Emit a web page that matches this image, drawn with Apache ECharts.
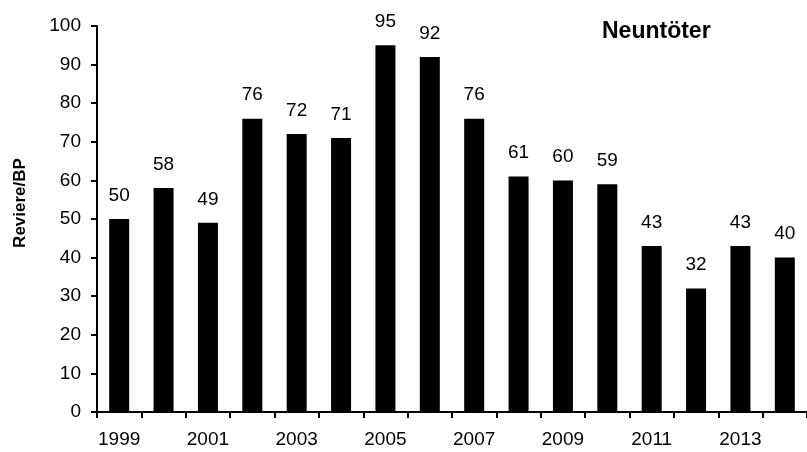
<!DOCTYPE html>
<html>
<head>
<meta charset="utf-8">
<script src="https://cdn.jsdelivr.net/npm/echarts@6/dist/echarts.min.js"></script>
<style>
  html, body { margin: 0; padding: 0; background: #fff; }
  #chart { width: 807px; height: 452px; }
</style>
</head>
<body>
<div id="chart"></div>
<script>
// Reviere je Brutjahr
var years = ["1999", "2000", "2001", "2002", "2003", "2004", "2005", "2006",
             "2007", "2008", "2009", "2010", "2011", "2012", "2013", "2014"];
var reviere = [50, 58, 49, 76, 72, 71, 95, 92, 76, 61, 60, 59, 43, 32, 43, 40];

var font = "Liberation Sans, Arial, sans-serif";

var myChart = echarts.init(document.getElementById("chart"));
var option = {
  animation: false,
  textStyle: { fontFamily: font },
  title: {
    text: "Neuntöter",
    left: 597,
    top: 15,
    textStyle: { fontSize: 23, fontWeight: "bold", color: "#000", fontFamily: font }
  },
  grid: { left: 97, right: -4, top: 26, bottom: 40, containLabel: false },
  xAxis: {
    type: "category",
    data: years,
    boundaryGap: true,
    axisLine: { lineStyle: { color: "#000", width: 2 } },
    axisTick: { show: true, interval: 0, length: 6, lineStyle: { color: "#000", width: 2 } },
    axisLabel: { interval: 1, fontSize: 19, color: "#000", margin: 18, fontFamily: font },
    splitLine: { show: false }
  },
  yAxis: {
    type: "value",
    min: 0,
    max: 100,
    interval: 10,
    name: "Reviere/BP",
    nameLocation: "middle",
    nameGap: 68,
    nameTextStyle: { fontSize: 17, fontWeight: "bold", color: "#000", fontFamily: font, padding: [0, 0, 0, 32] },
    axisLine: { show: true, lineStyle: { color: "#000", width: 2 } },
    axisTick: { show: true, length: 6, lineStyle: { color: "#000", width: 2 } },
    axisLabel: { fontSize: 19, color: "#000", margin: 16, fontFamily: font },
    splitLine: { show: false }
  },
  series: [
    {
      type: "bar",
      data: reviere,
      barWidth: 20,
      itemStyle: { color: "#000" },
      label: {
        show: true,
        position: "top",
        distance: 14,
        fontSize: 19,
        color: "#000",
        fontFamily: font
      }
    }
  ]
};
myChart.setOption(option);
</script>
</body>
</html>
